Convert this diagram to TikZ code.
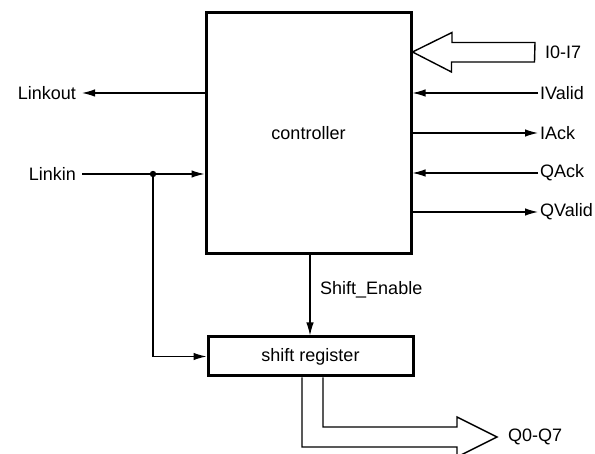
\documentclass[tikz,border=0pt]{standalone}
\usepackage{fontspec}
\setmainfont{Liberation Sans}
\usepackage{tikz}
\usetikzlibrary{positioning, arrows.meta}
\usetikzlibrary{calc}
\tikzstyle{block} = [rectangle, line width=3pt, text centered, draw=black]
\tikzstyle{arrow} = [line width=1.2pt,-{Latex[length=13pt,width=7.5pt]}]
\tikzstyle{bus} = [line width=1.4pt, line join=miter]
\tikzstyle{sig} = [inner sep=2pt]
\tikzstyle{every node}=[font=\fontsize{18}{21}\selectfont]

\begin{document}
\begin{tikzpicture}[x=1pt,y=-1pt]
		\useasboundingbox (0,0) rectangle (595,454);
		\node (ctrl) [block, minimum width=205pt, minimum height=241pt] at (308.5,133.5) {controller};
		\node (shreg) [block, minimum width=205pt, minimum height=39pt] at (310.5,356.5) {shift register};
		
		%右侧信号
		\node (ivalid) [sig, anchor=west] at (538,93) {IValid};
		\node (iack) [sig, anchor=west] at (538,133) {IAck};
		\node (qack) [sig, anchor=west] at (538,173) {QAck};
		\node (qvalid) [sig, anchor=west] at (538,212) {QValid};
		\node (ibus) [sig, anchor=west] at (543,52) {I0-I7};
		\node (qbus) [sig, anchor=west] at (506,437) {Q0-Q7};
		
		%左侧信号
		\node (linkout) [sig, inner xsep=6pt, anchor=east] at (82,93) {Linkout};
		\node (linkin) [sig, inner xsep=6pt, anchor=east] at (82,174) {Linkin};
		\coordinate (tap) at (153,174);
		
		\node (se) [sig, anchor=west] at (318,290) {Shift\_Enable};
		
		%连接
		\draw [arrow](ivalid.west) -- (ivalid.west -| ctrl.east);
		\draw [arrow](iack.west -| ctrl.east) -- (iack.west);
		\draw [arrow](qack.west) -- (qack.west -| ctrl.east);
		\draw [arrow](qvalid.west -| ctrl.east) -- (qvalid.west);
		\draw [arrow](linkout.east -| ctrl.west) -- (linkout.east);
		\draw [arrow](linkin.east) -- (linkin.east -| ctrl.west);
		\fill (tap) circle (3.2pt);
		\draw [arrow](tap) |- (shreg.west);
		\coordinate (sea) at ($(ctrl.south -| se.west)+(-8,0)$);
		\draw [arrow](sea) -- (sea |- shreg.north);
		
		%总线箭头
		\coordinate (itail) at ($(ibus.west)+(-8,0)$);
		\coordinate (qtip) at ($(qbus.west)+(-9,0)$);
		\draw [bus] ($(itail)+(0,-9.5)$) -- ++(-83,0) -- ++(0,-10) -- (ctrl.east |- ibus.west) -- ++(39,20) -- ++(0,-10) -- ++(83,0) -- cycle;
		\draw [bus] (shreg.south -| 302,0) |- ($(qtip)+(-40,10)$) -- ++(0,10) -- (qtip) -- ++(-40,-20) -- ++(0,10) -| (shreg.south -| 323,0);
	\end{tikzpicture}
\end{document}
